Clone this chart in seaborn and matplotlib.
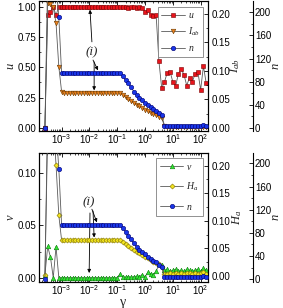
import numpy as np
import matplotlib
matplotlib.use('Agg')
import matplotlib.pyplot as plt
import matplotlib.ticker as mticker
import seaborn as sns

sns.set_theme(style='ticks')
plt.rcParams.update({
    'font.family': ['Liberation Sans', 'DejaVu Sans'],
    'mathtext.fontset': 'custom',
    'mathtext.rm': 'Liberation Sans',
    'mathtext.it': 'Liberation Serif:italic',
    'mathtext.bf': 'Liberation Sans:bold',
    'axes.linewidth': 0.8,
    'axes.edgecolor': 'black',
    'xtick.direction': 'in',
    'ytick.direction': 'in',
    'xtick.major.size': 3, 'ytick.major.size': 3,
    'xtick.minor.size': 1.6, 'ytick.minor.size': 1.6,
    'xtick.major.width': 0.6, 'ytick.major.width': 0.6,
    'xtick.minor.width': 0.5, 'ytick.minor.width': 0.5,
    'xtick.labelsize': 7, 'ytick.labelsize': 7,
    'xtick.color': 'black', 'ytick.color': 'black',
})

# ── data ─────────────────────────────────────────────────────
log_gamma = [-3.6, -3.5, -3.4, -3.3, -3.2, -3.1, -3.0, -2.9, -2.8, -2.7,
             -2.6, -2.5, -2.4, -2.3, -2.2, -2.1, -2.0, -1.9, -1.8, -1.7,
             -1.6, -1.5, -1.4, -1.3, -1.2, -1.1, -1.0, -0.9, -0.8, -0.7,
             -0.6, -0.5, -0.4, -0.3, -0.2, -0.1, 0.0, 0.1, 0.2, 0.3,
             0.4, 0.5, 0.6, 0.7, 0.8, 0.9, 1.0, 1.1, 1.2, 1.3,
             1.4, 1.5, 1.6, 1.7, 1.8, 1.9, 2.0, 2.1, 2.2]

# top panel
u_top = [0.0, 0.93, 0.96, 1.0, 0.93, 1.0, 1.0, 1.0, 1.0, 1.0,
         1.0, 1.0, 1.0, 1.0, 1.0, 1.0, 1.0, 1.0, 1.0, 1.0,
         1.0, 1.0, 1.0, 1.0, 1.0, 1.0, 1.0, 1.0, 1.0, 1.0,
         0.99, 1.0, 1.0, 0.99, 1.0, 0.99, 0.96, 0.975, 0.93, 0.92,
         0.93, 0.55, 0.33, 0.38, 0.457, 0.465, 0.38, 0.347, 0.446, 0.485,
         0.44, 0.35, 0.416, 0.38, 0.446, 0.465, 0.314, 0.51, 0.37]
I_ab = [0.0, 0.219, 0.2175, 0.212, 0.184, 0.1075, 0.064, 0.0616, 0.0616, 0.0616,
        0.0616, 0.0616, 0.0616, 0.0616, 0.0616, 0.0616, 0.0616, 0.0616, 0.0616, 0.0616,
        0.0616, 0.0616, 0.0616, 0.0616, 0.0616, 0.0616, 0.0616, 0.0616, 0.058, 0.054,
        0.050, 0.047, 0.044, 0.041, 0.038, 0.035, 0.032, 0.030, 0.027, 0.025,
        0.022, 0.020, 0.017, 0.004, 0.002, 0.002, 0.002, 0.002, 0.002, 0.002,
        0.002, 0.002, 0.002, 0.002, 0.002, 0.002, 0.002, 0.002, 0.002]
n_top = [0, 260, 260, 260, 250, 192, 95, 95, 95, 95,
         95, 95, 95, 95, 95, 95, 95, 95, 95, 95,
         95, 95, 95, 95, 95, 95, 95, 95, 90, 83,
         77, 70, 63, 57, 52, 48, 44, 40, 36, 33,
         30, 26, 22, 4, 3, 4, 3, 3, 4, 3,
         3, 3, 4, 3, 3, 3, 4, 5, 3]

# bottom panel
v_bot = [0.0026, 0.030, 0.0196, 0.0, 0.0297, 0.0, 0.0, 0.0, 0.0, 0.0,
         0.0, 0.0, 0.0, 0.0, 0.0, 0.0, 0.0, 0.0, 0.0, 0.0,
         0.0, 0.0, 0.0, 0.0, 0.0, 0.0, 0.0, 0.0035, 0.001, 0.0005,
         0.001, 0.0005, 0.001, 0.0015, 0.001, 0.003, 0.001, 0.005, 0.004, 0.003,
         0.006, 0.013, 0.012, 0.007, 0.008, 0.006, 0.007, 0.008, 0.006, 0.007,
         0.006, 0.008, 0.007, 0.006, 0.007, 0.008, 0.006, 0.009, 0.007]
H_a = [0.002, 0.30, 0.30, 0.28, 0.2015, 0.11, 0.065, 0.065, 0.065, 0.065,
       0.065, 0.065, 0.065, 0.065, 0.065, 0.065, 0.065, 0.065, 0.065, 0.065,
       0.065, 0.065, 0.065, 0.065, 0.065, 0.065, 0.065, 0.065, 0.062, 0.058,
       0.054, 0.050, 0.047, 0.044, 0.041, 0.038, 0.035, 0.032, 0.029, 0.026,
       0.023, 0.021, 0.017, 0.003, 0.004, 0.005, 0.004, 0.006, 0.004, 0.005,
       0.004, 0.005, 0.006, 0.004, 0.005, 0.004, 0.005, 0.008, 0.004]
n_bot = [0, 260, 260, 260, 260, 191, 94, 94, 94, 94,
         94, 94, 94, 94, 94, 94, 94, 94, 94, 94,
         94, 94, 94, 94, 94, 94, 94, 94, 88, 82,
         75, 69, 62, 56, 51, 47, 43, 39, 35, 32,
         29, 25, 21, 4.5, 4.5, 4, 4.5, 4, 4.5, 4.5,
         4, 4.5, 4.5, 4, 4.5, 4, 4.5, 5, 4.5]

gamma = 10.0 ** np.array(log_gamma)

LINE = '#5a5a5a'
RED, RED_E = '#e8141c', '#7a0000'
ORG, ORG_E = '#e8801e', '#6b3a00'
BLU, BLU_E = '#1a36e8', '#000070'
GRN, GRN_E = '#33e633', '#0a7a0a'
YEL, YEL_E = '#f2e41e', '#807000'


def draw(ax, y, marker, face, edge, label, ms=3.2):
    sns.lineplot(x=gamma, y=y, ax=ax, estimator=None, sort=False,
                 color=LINE, lw=0.6, marker=marker, markersize=ms,
                 markerfacecolor=face, markeredgecolor=edge,
                 markeredgewidth=0.4, label=label, legend=False)
    return ax.lines[-1]


def setup(ax, ax2, ax3, ylim1, ylim2, ylim3, yt1, yt2, yt3):
    ax.set_xscale('log')
    ax.set_xlim(1.54e-4, 184)
    ax.set_ylim(*ylim1)
    ax2.set_ylim(*ylim2)
    ax3.set_ylim(*ylim3)
    ax.set_yticks(yt1)
    ax2.set_yticks(yt2)
    ax3.set_yticks(yt3)
    ax.yaxis.set_major_formatter(mticker.FormatStrFormatter('%.2f'))
    ax2.yaxis.set_major_formatter(mticker.FormatStrFormatter('%.2f'))
    for a in (ax, ax2, ax3):
        a.yaxis.set_minor_locator(mticker.AutoMinorLocator(2))
    ax.xaxis.set_major_locator(mticker.FixedLocator([1e-3, 1e-2, 1e-1, 1, 10, 100]))
    ax.xaxis.set_minor_locator(mticker.LogLocator(base=10, subs=np.arange(2, 10), numticks=12))
    ax.xaxis.set_minor_formatter(mticker.NullFormatter())
    ax.xaxis.set_major_formatter(mticker.LogFormatterSciNotation())
    ax.tick_params(axis='x', which='both', top=True, pad=1.2)
    ax.tick_params(axis='y', which='both', right=False, pad=2)
    ax2.tick_params(axis='y', which='both', pad=2.5)
    ax3.tick_params(axis='y', which='both', pad=1.5)
    ax3.spines['right'].set_position(('axes', 1.266))
    for s in ('left', 'top', 'bottom'):
        ax3.spines[s].set_visible(False)
    ax3.patch.set_visible(False)
    ax2.patch.set_visible(False)


fig = plt.figure(figsize=(2.83, 3.08), dpi=100)
L, W = 39 / 283, 169 / 283
axT = fig.add_axes([L, 1 - 131 / 308, W, 130 / 308])
axB = fig.add_axes([L, 1 - 282 / 308, W, 129 / 308])

lab_font = dict(fontsize=9)

# ── top panel ────────────────────────────────────────────────
axT2 = axT.twinx()
axT3 = axT.twinx()
h1 = draw(axT, u_top, 's', RED, RED_E, '$u$', ms=2.9)
h2 = draw(axT2, I_ab, 'v', ORG, ORG_E, '$I_{ab}$', ms=3.3)
h3 = draw(axT3, n_top, 'o', BLU, BLU_E, '$n$', ms=3.2)
setup(axT, axT2, axT3, (-0.025, 1.047), (-0.0053, 0.2228), (-5.2, 219.5),
      [0, 0.25, 0.5, 0.75, 1.0], [0, 0.05, 0.10, 0.15, 0.20], [0, 40, 80, 120, 160, 200])
axT.set_ylabel('$u$', **lab_font)
axT2.set_ylabel('$I_{ab}$', **lab_font)
axT3.set_ylabel('$n$', **lab_font)
axT.yaxis.set_label_coords(-0.13, 0.5)
axT2.yaxis.set_label_coords(1.12, 0.5)
axT3.yaxis.set_label_coords(1.365, 0.5)
legT = axT3.legend([h1, h2, h3], ['$u$', '$I_{ab}$', '$n$'], loc='upper right',
                   bbox_to_anchor=(0.97, 0.955), fancybox=False, edgecolor='#808080',
                   framealpha=1, fontsize=7, handlelength=2.4, handletextpad=0.3,
                   labelspacing=0.55, borderpad=0.35, borderaxespad=0)
legT.get_frame().set_linewidth(0.6)

arrow = dict(arrowstyle='-|>', color='black', lw=0.6, mutation_scale=5, shrinkA=0, shrinkB=0)
axT.text(0.0123, 0.627, '(i)', ha='center', va='center', fontsize=9.5,
         family='Liberation Serif', style='italic')
axT.annotate('', xy=(0.0105, 0.975), xytext=(0.0123, 0.71), arrowprops=arrow)
axT.annotate('', xy=(0.0204, 0.475), xytext=(0.0135, 0.56), arrowprops=arrow)
axT.annotate('', xy=(0.0148, 0.31), xytext=(0.0148, 0.545), arrowprops=arrow)

# ── bottom panel ─────────────────────────────────────────────
axB2 = axB.twinx()
axB3 = axB.twinx()
g1 = draw(axB, v_bot, '^', GRN, GRN_E, '$v$', ms=3.3)
g2 = draw(axB2, H_a, 'D', YEL, YEL_E, '$H_a$', ms=2.6)
g3 = draw(axB3, n_bot, 'o', BLU, BLU_E, '$n$', ms=3.2)
setup(axB, axB2, axB3, (-0.0041, 0.1194), (-0.0109, 0.223), (-4.7, 217.8),
      [0, 0.05, 0.10], [0, 0.05, 0.10, 0.15, 0.20], [0, 40, 80, 120, 160, 200])
axB.set_ylabel('$v$', **lab_font)
axB2.set_ylabel('$H_a$', **lab_font)
axB3.set_ylabel('$n$', **lab_font)
axB.yaxis.set_label_coords(-0.13, 0.5)
axB2.yaxis.set_label_coords(1.13, 0.5)
axB3.yaxis.set_label_coords(1.365, 0.5)
axB.tick_params(axis='x', which='both', pad=0.8)
axB.set_xlabel('γ', fontsize=10, family='Liberation Serif', labelpad=-1.0)
legB = axB3.legend([g1, g2, g3], ['$v$', '$H_a$', '$n$'], loc='upper right',
                   bbox_to_anchor=(0.97, 0.965), fancybox=False, edgecolor='#808080',
                   framealpha=1, fontsize=7, handlelength=2.4, handletextpad=0.3,
                   labelspacing=0.9, borderpad=0.45, borderaxespad=0)
legB.get_frame().set_linewidth(0.6)

axB.text(0.0097, 0.0725, '(i)', ha='center', va='center', fontsize=9.5,
         family='Liberation Serif', style='italic')
axB.annotate('', xy=(0.0186, 0.053), xytext=(0.0123, 0.0656), arrowprops=arrow)
axB.annotate('', xy=(0.0148, 0.0385), xytext=(0.0135, 0.0639), arrowprops=arrow)
axB.annotate('', xy=(0.0098, 0.0045), xytext=(0.0105, 0.062), arrowprops=arrow)

fig.savefig('out.png', dpi=100)
